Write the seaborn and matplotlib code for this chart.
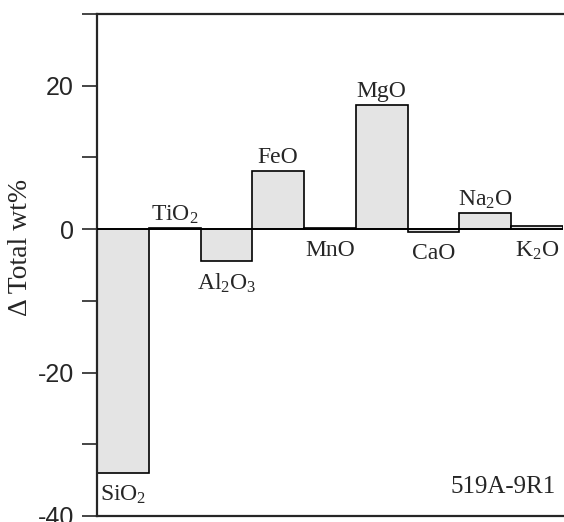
import matplotlib
matplotlib.use("Agg")
import matplotlib.pyplot as plt
import seaborn as sns
import pandas as pd
from matplotlib.ticker import MultipleLocator, FixedLocator

oxides = ["SiO2", "TiO2", "Al2O3", "FeO", "MnO", "MgO", "CaO", "Na2O", "K2O"]
labels = [r"SiO$_2$", r"TiO$_2$", r"Al$_2$O$_3$", "FeO", "MnO", "MgO", "CaO",
          r"Na$_2$O", r"K$_2$O"]
delta = [-34.0, 0.1, -4.4, 8.1, 0.1, 17.3, -0.4, 2.2, 0.5]
label_above = [False, True, False, True, False, True, False, True, False]
sample = "519A-9R1"
yticks_major = [-40, -20, 0, 20]

sns.set_style("ticks")
plt.rcParams["font.family"] = ["Liberation Serif", "DejaVu Serif"]
plt.rcParams["mathtext.fontset"] = "custom"
plt.rcParams["mathtext.rm"] = "Liberation Serif"
plt.rcParams["mathtext.it"] = "Liberation Serif"
plt.rcParams["mathtext.default"] = "rm"
plt.rcParams["axes.unicode_minus"] = False

df = pd.DataFrame({"oxide": oxides, "delta": delta})

fig = plt.figure(figsize=(5.64, 5.22), dpi=100)
ax = fig.add_axes([0.172, 0.0115, 0.826, 0.9615])

sns.barplot(data=df, x="oxide", y="delta", order=oxides, color="#e4e4e4",
            saturation=1, edgecolor="black", linewidth=1.2, width=1.0, ax=ax)

ax.axhline(0, color="black", lw=1.3, zorder=3)

ax.set_xlim(-0.5, len(oxides) - 0.5)
ax.set_ylim(-40, 30)
ax.set_xticks([])
ax.set_xlabel("")
ax.yaxis.set_major_locator(FixedLocator(yticks_major))
ax.yaxis.set_minor_locator(MultipleLocator(10))
ax.tick_params(axis="y", which="both", direction="out", length=10.5, width=1.2,
               labelsize=18, pad=6)
for t in ax.get_yticklabels():
    t.set_fontfamily(["Liberation Sans", "DejaVu Sans"])
ax.set_ylabel("Δ Total wt%", fontsize=20)
ax.yaxis.set_label_coords(-0.137, 0.536)

for sp in ["left", "top", "bottom"]:
    ax.spines[sp].set_linewidth(1.6)
ax.spines["right"].set_visible(False)

for i, (lab, v, up) in enumerate(zip(labels, delta, label_above)):
    if up:
        y = max(v, 0) + 1.1
        va = "baseline"
    else:
        y = min(v, 0) - 1.5
        va = "top"
    ax.text(i, y, lab, ha="center", va=va, fontsize=17)

ax.text(0.985, 0.046, sample, transform=ax.transAxes, ha="right",
        va="baseline", fontsize=18)

fig.savefig("out.png", dpi=100)
